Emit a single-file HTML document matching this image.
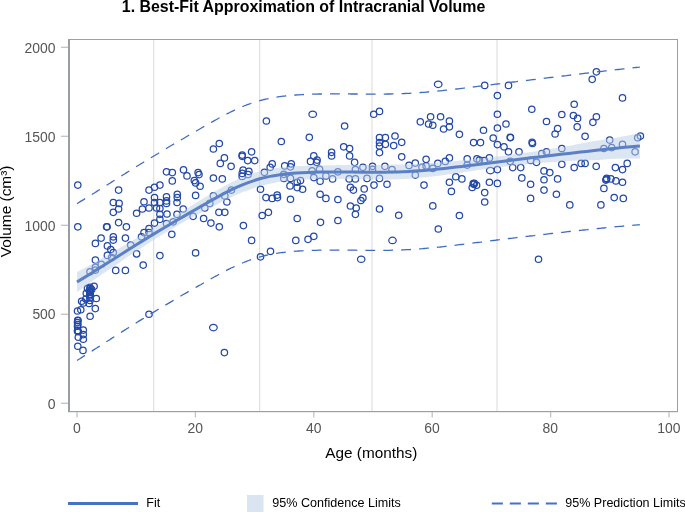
<!DOCTYPE html>
<html><head><meta charset="utf-8"><title>Best-Fit Approximation of Intracranial Volume</title>
<style>
html,body{margin:0;padding:0;background:#fff;}
body{width:685px;height:512px;overflow:hidden;}
svg{display:block;font-family:"Liberation Sans",sans-serif;will-change:transform;}
</style></head><body>
<svg width="685" height="512" viewBox="0 0 685 512">
<rect width="685" height="512" fill="#fff"/>
<text x="121.8" y="11.6" font-size="16" text-anchor="start" fill="#000" textLength="363.5" lengthAdjust="spacingAndGlyphs" font-weight="bold">1. Best-Fit Approximation of Intracranial Volume</text>
<g stroke="#d9d9d9" stroke-width="1"><line x1="153.75" x2="153.75" y1="40" y2="411"/><line x1="259.7" x2="259.7" y1="40" y2="411"/><line x1="372" x2="372" y1="40" y2="411"/><line x1="497" x2="497" y1="40" y2="411"/></g>
<g fill="none" stroke="#2249a8" stroke-width="1.25"><circle cx="86.3" cy="293.3" r="3.2"/><circle cx="90.0" cy="292.3" r="3.2"/><circle cx="90.0" cy="294.3" r="3.2"/><circle cx="96.3" cy="298.5" r="3.2"/><circle cx="81.6" cy="301.3" r="3.2"/><circle cx="83.3" cy="303.0" r="3.2"/><circle cx="89.1" cy="303.5" r="3.2"/><circle cx="85.8" cy="299.0" r="3.2"/><circle cx="95.3" cy="308.6" r="3.2"/><circle cx="77.5" cy="311.0" r="3.2"/><circle cx="80.8" cy="309.8" r="3.2"/><circle cx="90.1" cy="316.3" r="3.2"/><circle cx="78.0" cy="320.6" r="3.2"/><circle cx="77.5" cy="322.6" r="3.2"/><circle cx="77.5" cy="326.3" r="3.2"/><circle cx="77.5" cy="330.9" r="3.2"/><circle cx="78.3" cy="331.8" r="3.2"/><circle cx="83.3" cy="330.1" r="3.2"/><circle cx="83.3" cy="334.6" r="3.2"/><circle cx="78.3" cy="337.3" r="3.2"/><circle cx="83.3" cy="339.3" r="3.2"/><circle cx="77.8" cy="346.3" r="3.2"/><circle cx="83.0" cy="350.4" r="3.2"/><circle cx="149.0" cy="314.3" r="3.2"/><circle cx="77.8" cy="226.8" r="3.2"/><circle cx="107.1" cy="226.8" r="3.2"/><circle cx="106.6" cy="226.8" r="3.2"/><circle cx="118.6" cy="222.6" r="3.2"/><circle cx="126.4" cy="226.8" r="3.2"/><circle cx="113.3" cy="212.3" r="3.2"/><circle cx="118.6" cy="209.0" r="3.2"/><circle cx="136.6" cy="213.2" r="3.2"/><circle cx="142.4" cy="209.0" r="3.2"/><circle cx="149.0" cy="208.0" r="3.2"/><circle cx="156.5" cy="208.0" r="3.2"/><circle cx="159.9" cy="208.5" r="3.2"/><circle cx="159.9" cy="214.3" r="3.2"/><circle cx="167.0" cy="214.0" r="3.2"/><circle cx="159.9" cy="219.3" r="3.2"/><circle cx="154.5" cy="223.1" r="3.2"/><circle cx="149.0" cy="228.5" r="3.2"/><circle cx="149.0" cy="232.6" r="3.2"/><circle cx="144.0" cy="232.6" r="3.2"/><circle cx="141.5" cy="236.8" r="3.2"/><circle cx="171.8" cy="234.3" r="3.2"/><circle cx="166.5" cy="223.5" r="3.2"/><circle cx="173.2" cy="221.8" r="3.2"/><circle cx="101.1" cy="238.1" r="3.2"/><circle cx="95.4" cy="243.4" r="3.2"/><circle cx="113.3" cy="236.8" r="3.2"/><circle cx="113.3" cy="240.1" r="3.2"/><circle cx="125.4" cy="238.1" r="3.2"/><circle cx="107.4" cy="245.9" r="3.2"/><circle cx="110.8" cy="249.6" r="3.2"/><circle cx="113.3" cy="252.6" r="3.2"/><circle cx="107.4" cy="255.4" r="3.2"/><circle cx="130.7" cy="245.1" r="3.2"/><circle cx="136.6" cy="253.9" r="3.2"/><circle cx="159.9" cy="255.6" r="3.2"/><circle cx="143.2" cy="265.1" r="3.2"/><circle cx="95.4" cy="260.1" r="3.2"/><circle cx="101.3" cy="264.2" r="3.2"/><circle cx="95.4" cy="267.2" r="3.2"/><circle cx="95.4" cy="270.1" r="3.2"/><circle cx="90.0" cy="271.7" r="3.2"/><circle cx="115.7" cy="270.4" r="3.2"/><circle cx="125.4" cy="270.4" r="3.2"/><circle cx="94.1" cy="286.2" r="3.2"/><circle cx="90.0" cy="287.2" r="3.2"/><circle cx="87.5" cy="288.4" r="3.2"/><circle cx="111.6" cy="257.6" r="3.2"/><circle cx="77.8" cy="185.1" r="3.2"/><circle cx="118.6" cy="190.1" r="3.2"/><circle cx="113.3" cy="202.5" r="3.2"/><circle cx="119.1" cy="203.4" r="3.2"/><circle cx="144.0" cy="201.7" r="3.2"/><circle cx="149.0" cy="190.1" r="3.2"/><circle cx="154.5" cy="187.2" r="3.2"/><circle cx="159.9" cy="185.1" r="3.2"/><circle cx="154.5" cy="197.6" r="3.2"/><circle cx="154.5" cy="202.5" r="3.2"/><circle cx="159.9" cy="202.5" r="3.2"/><circle cx="166.5" cy="171.8" r="3.2"/><circle cx="172.3" cy="172.6" r="3.2"/><circle cx="172.3" cy="180.9" r="3.2"/><circle cx="166.5" cy="196.7" r="3.2"/><circle cx="166.5" cy="200.9" r="3.2"/><circle cx="166.5" cy="203.4" r="3.2"/><circle cx="183.5" cy="169.8" r="3.2"/><circle cx="187.0" cy="175.9" r="3.2"/><circle cx="198.1" cy="172.6" r="3.2"/><circle cx="199.0" cy="174.6" r="3.2"/><circle cx="194.3" cy="180.6" r="3.2"/><circle cx="195.6" cy="182.9" r="3.2"/><circle cx="200.1" cy="186.2" r="3.2"/><circle cx="195.6" cy="195.4" r="3.2"/><circle cx="177.3" cy="194.2" r="3.2"/><circle cx="177.3" cy="197.6" r="3.2"/><circle cx="177.0" cy="202.5" r="3.2"/><circle cx="213.4" cy="149.0" r="3.2"/><circle cx="219.3" cy="143.5" r="3.2"/><circle cx="224.4" cy="157.9" r="3.2"/><circle cx="220.3" cy="163.4" r="3.2"/><circle cx="231.1" cy="166.3" r="3.2"/><circle cx="213.4" cy="178.1" r="3.2"/><circle cx="222.3" cy="178.9" r="3.2"/><circle cx="242.2" cy="155.1" r="3.2"/><circle cx="242.2" cy="156.3" r="3.2"/><circle cx="251.6" cy="151.8" r="3.2"/><circle cx="247.7" cy="160.6" r="3.2"/><circle cx="254.7" cy="160.6" r="3.2"/><circle cx="243.1" cy="170.1" r="3.2"/><circle cx="248.9" cy="171.4" r="3.2"/><circle cx="242.2" cy="173.4" r="3.2"/><circle cx="248.1" cy="174.6" r="3.2"/><circle cx="242.2" cy="176.4" r="3.2"/><circle cx="272.2" cy="163.9" r="3.2"/><circle cx="270.2" cy="167.3" r="3.2"/><circle cx="264.4" cy="172.3" r="3.2"/><circle cx="284.7" cy="165.9" r="3.2"/><circle cx="281.3" cy="141.5" r="3.2"/><circle cx="266.4" cy="121.0" r="3.2"/><circle cx="260.5" cy="189.2" r="3.2"/><circle cx="231.4" cy="190.1" r="3.2"/><circle cx="213.4" cy="195.9" r="3.2"/><circle cx="224.8" cy="195.9" r="3.2"/><circle cx="226.9" cy="202.0" r="3.2"/><circle cx="266.0" cy="197.6" r="3.2"/><circle cx="272.2" cy="198.4" r="3.2"/><circle cx="277.2" cy="195.1" r="3.2"/><circle cx="277.5" cy="197.6" r="3.2"/><circle cx="283.8" cy="174.3" r="3.2"/><circle cx="283.8" cy="178.4" r="3.2"/><circle cx="209.8" cy="203.4" r="3.2"/><circle cx="183.2" cy="209.0" r="3.2"/><circle cx="177.0" cy="214.3" r="3.2"/><circle cx="193.1" cy="216.3" r="3.2"/><circle cx="203.6" cy="218.5" r="3.2"/><circle cx="210.9" cy="223.1" r="3.2"/><circle cx="219.3" cy="226.8" r="3.2"/><circle cx="218.9" cy="212.3" r="3.2"/><circle cx="224.8" cy="212.3" r="3.2"/><circle cx="243.4" cy="225.6" r="3.2"/><circle cx="251.6" cy="240.4" r="3.2"/><circle cx="195.6" cy="252.9" r="3.2"/><circle cx="260.5" cy="256.8" r="3.2"/><circle cx="270.5" cy="251.3" r="3.2"/><circle cx="262.2" cy="215.5" r="3.2"/><circle cx="268.4" cy="212.3" r="3.2"/><circle cx="204.8" cy="208.0" r="3.2"/><ellipse cx="213.4" cy="327.6" rx="3.8" ry="3.2"/><circle cx="224.4" cy="352.6" r="3.2"/><circle cx="344.6" cy="126.0" r="3.2"/><circle cx="309.3" cy="137.3" r="3.2"/><circle cx="343.7" cy="146.8" r="3.2"/><circle cx="349.6" cy="148.5" r="3.2"/><circle cx="349.6" cy="155.9" r="3.2"/><circle cx="354.6" cy="162.3" r="3.2"/><circle cx="331.6" cy="152.3" r="3.2"/><circle cx="331.6" cy="155.9" r="3.2"/><circle cx="313.8" cy="155.9" r="3.2"/><circle cx="310.5" cy="161.4" r="3.2"/><circle cx="317.1" cy="160.1" r="3.2"/><circle cx="316.6" cy="162.3" r="3.2"/><circle cx="291.3" cy="163.9" r="3.2"/><circle cx="290.5" cy="166.8" r="3.2"/><circle cx="319.6" cy="169.3" r="3.2"/><circle cx="312.1" cy="170.9" r="3.2"/><circle cx="337.9" cy="171.8" r="3.2"/><circle cx="355.4" cy="169.6" r="3.2"/><circle cx="362.9" cy="167.3" r="3.2"/><circle cx="372.5" cy="166.3" r="3.2"/><circle cx="372.5" cy="169.3" r="3.2"/><circle cx="384.9" cy="166.3" r="3.2"/><circle cx="392.0" cy="169.6" r="3.2"/><circle cx="313.8" cy="177.6" r="3.2"/><circle cx="325.9" cy="175.9" r="3.2"/><circle cx="332.6" cy="178.9" r="3.2"/><circle cx="320.1" cy="181.2" r="3.2"/><circle cx="349.2" cy="178.9" r="3.2"/><circle cx="355.4" cy="178.9" r="3.2"/><circle cx="367.0" cy="178.4" r="3.2"/><circle cx="379.5" cy="178.4" r="3.2"/><circle cx="290.5" cy="178.4" r="3.2"/><circle cx="300.5" cy="180.6" r="3.2"/><circle cx="297.2" cy="182.2" r="3.2"/><circle cx="290.0" cy="185.9" r="3.2"/><circle cx="297.2" cy="187.6" r="3.2"/><circle cx="302.6" cy="189.2" r="3.2"/><circle cx="290.5" cy="199.2" r="3.2"/><circle cx="320.1" cy="194.2" r="3.2"/><circle cx="325.9" cy="198.4" r="3.2"/><circle cx="337.9" cy="199.5" r="3.2"/><circle cx="350.4" cy="187.2" r="3.2"/><circle cx="353.4" cy="190.1" r="3.2"/><circle cx="364.2" cy="188.9" r="3.2"/><circle cx="374.0" cy="185.1" r="3.2"/><circle cx="387.0" cy="184.2" r="3.2"/><circle cx="362.9" cy="197.9" r="3.2"/><circle cx="360.9" cy="200.5" r="3.2"/><circle cx="350.4" cy="206.0" r="3.2"/><circle cx="379.5" cy="137.6" r="3.2"/><circle cx="385.4" cy="137.6" r="3.2"/><circle cx="379.5" cy="142.6" r="3.2"/><circle cx="385.4" cy="144.3" r="3.2"/><circle cx="379.5" cy="146.0" r="3.2"/><circle cx="379.5" cy="152.6" r="3.2"/><circle cx="395.0" cy="136.0" r="3.2"/><circle cx="393.7" cy="145.6" r="3.2"/><circle cx="401.7" cy="142.3" r="3.2"/><circle cx="401.7" cy="156.8" r="3.2"/><circle cx="297.2" cy="218.5" r="3.2"/><circle cx="320.5" cy="222.3" r="3.2"/><circle cx="337.9" cy="220.5" r="3.2"/><circle cx="356.2" cy="208.0" r="3.2"/><circle cx="355.4" cy="214.3" r="3.2"/><circle cx="379.5" cy="209.0" r="3.2"/><circle cx="398.7" cy="215.2" r="3.2"/><circle cx="295.8" cy="240.4" r="3.2"/><circle cx="308.0" cy="239.3" r="3.2"/><circle cx="313.8" cy="236.3" r="3.2"/><ellipse cx="392.5" cy="240.4" rx="3.7" ry="3.2"/><ellipse cx="361.2" cy="259.3" rx="3.7" ry="3.2"/><ellipse cx="312.7" cy="114.2" rx="3.8" ry="3.2"/><circle cx="373.7" cy="114.2" r="3.2"/><circle cx="379.5" cy="111.4" r="3.2"/><circle cx="420.3" cy="121.8" r="3.2"/><circle cx="428.6" cy="124.0" r="3.2"/><circle cx="432.8" cy="125.2" r="3.2"/><circle cx="449.4" cy="126.8" r="3.2"/><circle cx="443.6" cy="129.0" r="3.2"/><circle cx="449.4" cy="121.0" r="3.2"/><circle cx="459.4" cy="134.3" r="3.2"/><circle cx="483.5" cy="130.2" r="3.2"/><circle cx="497.4" cy="128.0" r="3.2"/><circle cx="506.0" cy="124.0" r="3.2"/><circle cx="510.2" cy="137.3" r="3.2"/><circle cx="510.5" cy="137.6" r="3.2"/><circle cx="493.2" cy="138.1" r="3.2"/><circle cx="473.6" cy="142.6" r="3.2"/><circle cx="480.5" cy="142.6" r="3.2"/><circle cx="497.4" cy="144.6" r="3.2"/><circle cx="504.0" cy="146.8" r="3.2"/><circle cx="508.5" cy="151.8" r="3.2"/><circle cx="426.1" cy="159.3" r="3.2"/><circle cx="449.4" cy="157.9" r="3.2"/><circle cx="445.3" cy="161.4" r="3.2"/><circle cx="437.8" cy="163.4" r="3.2"/><circle cx="415.3" cy="163.1" r="3.2"/><circle cx="409.0" cy="165.4" r="3.2"/><circle cx="426.1" cy="165.9" r="3.2"/><circle cx="422.0" cy="167.3" r="3.2"/><circle cx="432.8" cy="168.4" r="3.2"/><circle cx="467.2" cy="158.9" r="3.2"/><circle cx="467.2" cy="165.1" r="3.2"/><circle cx="476.9" cy="158.9" r="3.2"/><circle cx="479.4" cy="160.1" r="3.2"/><circle cx="484.4" cy="160.6" r="3.2"/><circle cx="489.4" cy="157.9" r="3.2"/><ellipse cx="490.4" cy="170.6" rx="3.9" ry="3.2"/><circle cx="497.4" cy="169.6" r="3.2"/><circle cx="510.2" cy="161.3" r="3.2"/><circle cx="512.7" cy="167.6" r="3.2"/><circle cx="415.3" cy="175.1" r="3.2"/><circle cx="455.8" cy="176.7" r="3.2"/><circle cx="461.9" cy="178.9" r="3.2"/><circle cx="449.4" cy="182.2" r="3.2"/><circle cx="424.0" cy="185.1" r="3.2"/><circle cx="451.4" cy="191.4" r="3.2"/><circle cx="473.2" cy="183.6" r="3.2"/><circle cx="473.9" cy="184.3" r="3.2"/><circle cx="474.3" cy="183.2" r="3.2"/><circle cx="472.2" cy="187.5" r="3.2"/><circle cx="476.6" cy="185.2" r="3.2"/><circle cx="489.4" cy="182.2" r="3.2"/><circle cx="497.4" cy="183.4" r="3.2"/><circle cx="484.7" cy="192.6" r="3.2"/><circle cx="484.7" cy="202.0" r="3.2"/><circle cx="432.8" cy="205.9" r="3.2"/><circle cx="459.4" cy="215.5" r="3.2"/><circle cx="438.3" cy="229.0" r="3.2"/><ellipse cx="438.2" cy="84.3" rx="3.8" ry="3.2"/><circle cx="484.7" cy="85.4" r="3.2"/><circle cx="508.5" cy="85.4" r="3.2"/><circle cx="497.4" cy="95.6" r="3.2"/><circle cx="497.4" cy="114.2" r="3.2"/><circle cx="430.6" cy="116.7" r="3.2"/><circle cx="440.6" cy="116.7" r="3.2"/><circle cx="546.5" cy="121.5" r="3.2"/><circle cx="557.6" cy="128.5" r="3.2"/><circle cx="555.1" cy="134.0" r="3.2"/><circle cx="577.2" cy="126.8" r="3.2"/><circle cx="592.9" cy="122.3" r="3.2"/><circle cx="585.1" cy="136.3" r="3.2"/><circle cx="532.1" cy="142.3" r="3.2"/><circle cx="532.5" cy="143.5" r="3.2"/><circle cx="609.7" cy="140.1" r="3.2"/><circle cx="622.5" cy="144.3" r="3.2"/><circle cx="611.7" cy="147.6" r="3.2"/><circle cx="603.9" cy="148.5" r="3.2"/><circle cx="561.8" cy="148.5" r="3.2"/><circle cx="546.5" cy="151.8" r="3.2"/><circle cx="541.8" cy="153.5" r="3.2"/><circle cx="519.0" cy="151.8" r="3.2"/><circle cx="530.6" cy="160.4" r="3.2"/><circle cx="536.5" cy="162.3" r="3.2"/><circle cx="561.8" cy="164.3" r="3.2"/><circle cx="520.7" cy="167.6" r="3.2"/><circle cx="574.2" cy="167.6" r="3.2"/><circle cx="581.2" cy="163.4" r="3.2"/><circle cx="585.1" cy="163.4" r="3.2"/><circle cx="596.2" cy="166.3" r="3.2"/><circle cx="627.2" cy="163.4" r="3.2"/><circle cx="615.4" cy="167.6" r="3.2"/><circle cx="622.5" cy="169.6" r="3.2"/><circle cx="544.0" cy="170.9" r="3.2"/><circle cx="549.8" cy="172.6" r="3.2"/><circle cx="521.8" cy="177.9" r="3.2"/><circle cx="544.0" cy="179.7" r="3.2"/><circle cx="557.6" cy="178.9" r="3.2"/><circle cx="530.6" cy="184.2" r="3.2"/><circle cx="606.7" cy="178.4" r="3.2"/><circle cx="605.9" cy="180.1" r="3.2"/><circle cx="610.9" cy="178.9" r="3.2"/><circle cx="615.9" cy="180.9" r="3.2"/><circle cx="622.5" cy="182.2" r="3.2"/><circle cx="603.9" cy="188.4" r="3.2"/><circle cx="544.0" cy="190.1" r="3.2"/><circle cx="556.4" cy="194.2" r="3.2"/><circle cx="530.6" cy="198.4" r="3.2"/><circle cx="614.2" cy="197.6" r="3.2"/><circle cx="623.3" cy="198.4" r="3.2"/><circle cx="569.8" cy="204.9" r="3.2"/><circle cx="600.9" cy="204.9" r="3.2"/><circle cx="606.4" cy="179.2" r="3.2"/><circle cx="596.4" cy="71.8" r="3.2"/><circle cx="592.2" cy="79.3" r="3.2"/><circle cx="622.5" cy="97.9" r="3.2"/><circle cx="574.2" cy="104.2" r="3.2"/><circle cx="531.8" cy="109.2" r="3.2"/><circle cx="561.8" cy="114.5" r="3.2"/><circle cx="573.4" cy="115.5" r="3.2"/><circle cx="577.6" cy="118.4" r="3.2"/><circle cx="596.4" cy="116.7" r="3.2"/><circle cx="538.5" cy="259.3" r="3.2"/><circle cx="637.7" cy="137.7" r="3.2"/><circle cx="640.4" cy="136.1" r="3.2"/><circle cx="635.1" cy="151.8" r="3.2"/><circle cx="90.0" cy="288.8" r="3.2"/><circle cx="90.2" cy="291.7" r="3.2"/><circle cx="89.8" cy="294.6" r="3.2"/><circle cx="77.7" cy="320.4" r="3.2"/><circle cx="77.9" cy="324.5" r="3.2"/><circle cx="77.7" cy="330.4" r="3.2"/><circle cx="91.7" cy="289.5" r="3.2"/><circle cx="89.9" cy="296.0" r="3.2"/><circle cx="89.9" cy="298.0" r="3.2"/><circle cx="90.0" cy="300.5" r="3.2"/><circle cx="89.5" cy="290.5" r="3.2"/></g>
<path d="M77.0,271.9 L82.9,268.9 L88.9,265.7 L94.8,262.6 L100.7,259.2 L106.6,255.6 L112.6,252.1 L118.5,248.7 L124.4,245.2 L130.3,241.7 L136.3,238.2 L142.2,234.7 L148.1,231.3 L154.0,227.9 L160.0,224.5 L165.9,221.0 L171.8,217.5 L177.7,214.1 L183.7,210.6 L189.6,207.1 L195.5,203.3 L201.4,199.6 L207.4,195.9 L213.3,192.3 L219.2,188.9 L225.1,185.7 L231.1,182.6 L237.0,179.7 L242.9,177.1 L248.8,174.7 L254.8,172.7 L260.7,171.1 L266.6,169.7 L272.5,168.6 L278.5,167.7 L284.4,167.1 L290.3,166.6 L296.2,166.2 L302.2,165.9 L308.1,165.6 L314.0,165.5 L319.9,165.4 L325.9,165.3 L331.8,165.2 L337.7,165.1 L343.6,165.1 L349.6,165.1 L355.5,165.1 L361.4,165.1 L367.3,165.1 L373.3,165.0 L379.2,165.0 L385.1,164.9 L391.0,164.8 L397.0,164.6 L402.9,164.4 L408.8,164.2 L414.7,163.9 L420.7,163.7 L426.6,163.3 L432.5,162.9 L438.4,162.5 L444.4,162.0 L450.3,161.5 L456.2,160.9 L462.1,160.3 L468.1,159.7 L474.0,159.1 L479.9,158.5 L485.8,157.8 L491.8,157.2 L497.7,156.5 L503.6,155.7 L509.5,154.9 L515.5,154.1 L521.4,153.3 L527.3,152.5 L533.2,151.7 L539.2,150.7 L545.1,149.8 L551.0,148.8 L556.9,147.9 L562.9,146.9 L568.8,145.9 L574.7,144.7 L580.6,143.6 L586.6,142.4 L592.5,141.3 L598.4,140.4 L604.3,139.4 L610.3,138.5 L616.2,137.7 L622.1,136.6 L628.0,135.4 L634.0,134.3 L639.9,133.3 L639.9,158.5 L634.0,158.6 L628.0,158.6 L622.1,158.7 L616.2,158.8 L610.3,159.1 L604.3,159.5 L598.4,159.9 L592.5,160.2 L586.6,160.4 L580.6,160.6 L574.7,160.8 L568.8,161.0 L562.9,161.3 L556.9,161.7 L551.0,162.2 L545.1,162.6 L539.2,163.1 L533.2,163.5 L527.3,164.1 L521.4,164.8 L515.5,165.4 L509.5,166.0 L503.6,166.7 L497.7,167.3 L491.8,168.2 L485.8,169.0 L479.9,169.8 L474.0,170.7 L468.1,171.5 L462.1,172.4 L456.2,173.3 L450.3,174.1 L444.4,174.9 L438.4,175.7 L432.5,176.4 L426.6,177.1 L420.7,177.7 L414.7,178.3 L408.8,178.8 L402.9,179.1 L397.0,179.3 L391.0,179.4 L385.1,179.5 L379.2,179.5 L373.3,179.5 L367.3,179.4 L361.4,179.3 L355.5,179.2 L349.6,179.0 L343.6,178.9 L337.7,178.8 L331.8,178.7 L325.9,178.7 L319.9,178.8 L314.0,179.0 L308.1,179.2 L302.2,179.6 L296.2,179.9 L290.3,180.5 L284.4,181.2 L278.5,182.1 L272.5,183.2 L266.6,184.5 L260.7,186.0 L254.8,187.8 L248.8,189.9 L242.9,192.1 L237.0,194.6 L231.1,197.3 L225.1,200.2 L219.2,203.2 L213.3,206.4 L207.4,209.5 L201.4,212.6 L195.5,215.7 L189.6,218.8 L183.7,222.1 L177.7,225.5 L171.8,229.0 L165.9,232.5 L160.0,236.1 L154.0,239.8 L148.1,243.6 L142.2,247.4 L136.3,251.3 L130.3,255.1 L124.4,259.1 L118.5,263.2 L112.6,267.2 L106.6,271.2 L100.7,275.2 L94.8,279.3 L88.9,283.6 L82.9,287.9 L77.0,292.1Z" fill="#b9cde5" fill-opacity="0.5"/>
<path d="M77.0,282.0 L82.9,278.4 L88.9,274.7 L94.8,270.9 L100.7,267.2 L106.6,263.4 L112.6,259.7 L118.5,255.9 L124.4,252.2 L130.3,248.4 L136.3,244.7 L142.2,241.1 L148.1,237.4 L154.0,233.9 L160.0,230.3 L165.9,226.8 L171.8,223.3 L177.7,219.8 L183.7,216.4 L189.6,212.9 L195.5,209.5 L201.4,206.1 L207.4,202.7 L213.3,199.4 L219.2,196.1 L225.1,192.9 L231.1,189.9 L237.0,187.2 L242.9,184.6 L248.8,182.3 L254.8,180.3 L260.7,178.5 L266.6,177.1 L272.5,175.9 L278.5,174.9 L284.4,174.1 L290.3,173.5 L296.2,173.1 L302.2,172.7 L308.1,172.4 L314.0,172.2 L319.9,172.1 L325.9,172.0 L331.8,172.0 L337.7,172.0 L343.6,172.0 L349.6,172.1 L355.5,172.1 L361.4,172.2 L367.3,172.2 L373.3,172.2 L379.2,172.2 L385.1,172.2 L391.0,172.1 L397.0,172.0 L402.9,171.8 L408.8,171.5 L414.7,171.1 L420.7,170.7 L426.6,170.2 L432.5,169.7 L438.4,169.1 L444.4,168.4 L450.3,167.8 L456.2,167.1 L462.1,166.4 L468.1,165.6 L474.0,164.9 L479.9,164.2 L485.8,163.4 L491.8,162.7 L497.7,161.9 L503.6,161.2 L509.5,160.5 L515.5,159.8 L521.4,159.0 L527.3,158.3 L533.2,157.6 L539.2,156.9 L545.1,156.2 L551.0,155.5 L556.9,154.8 L562.9,154.1 L568.8,153.4 L574.7,152.8 L580.6,152.1 L586.6,151.4 L592.5,150.8 L598.4,150.1 L604.3,149.5 L610.3,148.8 L616.2,148.2 L622.1,147.6 L628.0,147.0 L634.0,146.5 L639.9,145.9" fill="none" stroke="#5b80c3" stroke-width="3" stroke-linejoin="round"/>
<g fill="none" stroke="#3f6bc0" stroke-width="1.3">
<path d="M77.0,203.6 L78.5,202.7 L80.2,201.6 L81.9,200.6 L83.6,199.6 L85.1,198.6 M91.8,194.5 L93.5,193.5 L95.2,192.5 L96.8,191.4 L98.5,190.3 L99.9,189.5 M106.6,185.3 L108.2,184.2 L109.9,183.2 L111.6,182.1 L113.3,181.0 L114.6,180.2 M121.3,176.0 L122.9,175.0 L124.6,174.0 L126.3,172.9 L128.0,171.8 L129.4,171.0 M136.1,166.8 L137.7,165.8 L139.4,164.8 L141.0,163.7 L142.7,162.7 L144.2,161.8 M150.9,157.7 L152.6,156.7 L154.3,155.7 L156.0,154.7 L157.7,153.7 L159.1,152.8 M165.9,148.8 L167.5,147.8 L169.2,146.8 L170.9,145.8 L172.6,144.8 L174.1,143.9 M180.9,139.9 L182.6,139.0 L184.3,138.0 L185.9,137.0 L187.6,136.0 L189.2,135.1 M196.0,131.2 L197.6,130.2 L199.3,129.3 L201.0,128.3 L202.7,127.3 L204.3,126.4 M211.1,122.5 L212.7,121.6 L214.4,120.6 L216.1,119.7 L217.8,118.8 L219.4,117.8 L219.5,117.8 M226.5,114.1 L228.0,113.3 L229.7,112.5 L231.4,111.6 L233.1,110.8 L234.8,110.0 L235.1,109.9 M242.4,106.7 L243.9,106.0 L245.6,105.4 L247.3,104.7 L249.0,104.1 L250.7,103.5 L251.4,103.2 M259.1,100.8 L260.7,100.4 L262.4,100.0 L264.1,99.5 L265.8,99.1 L267.4,98.8 L268.5,98.5 M276.5,97.1 L278.1,96.8 L279.8,96.6 L281.5,96.4 L283.2,96.2 L284.9,96.0 L286.2,95.8 M294.2,95.1 L295.9,95.0 L297.6,94.9 L299.3,94.8 L300.9,94.7 L302.6,94.6 L304.0,94.5 M312.1,94.2 L313.8,94.1 L315.4,94.1 L317.1,94.1 L318.8,94.0 L320.5,94.0 L321.9,94.0 M330.0,93.9 L331.6,93.9 L333.3,93.9 L335.0,93.9 L336.7,93.9 L338.4,93.9 L339.8,93.9 M347.9,93.9 L349.5,93.9 L351.2,94.0 L352.9,94.0 L354.6,94.0 L356.3,94.0 L357.7,94.0 M365.8,94.1 L367.4,94.1 L369.1,94.1 L370.8,94.1 L372.5,94.1 L374.1,94.1 L375.6,94.1 M383.7,94.1 L385.3,94.1 L387.0,94.0 L388.6,94.0 L390.3,94.0 L392.0,93.9 L393.5,93.9 M401.6,93.7 L403.3,93.6 L405.0,93.5 L406.7,93.4 L408.3,93.3 L410.0,93.3 L411.4,93.2 M419.5,92.7 L421.0,92.5 L422.7,92.4 L424.4,92.3 L426.1,92.1 L427.8,92.0 L429.2,91.9 M437.3,91.1 L438.9,90.9 L440.6,90.8 L442.3,90.6 L444.0,90.4 L445.7,90.2 L447.0,90.1 M455.1,89.2 L456.6,89.0 L458.3,88.8 L460.0,88.6 L461.7,88.4 L463.4,88.2 L464.8,88.0 M472.8,87.0 L474.4,86.8 L476.1,86.6 L477.7,86.4 L479.4,86.2 L481.1,86.0 L482.5,85.8 M490.5,84.8 L492.1,84.6 L493.8,84.4 L495.5,84.2 L497.2,84.0 L498.9,83.8 L500.2,83.6 M508.3,82.6 L509.8,82.4 L511.5,82.2 L513.2,82.0 L514.9,81.8 L516.6,81.6 L518.0,81.4 M526.0,80.5 L527.6,80.3 L529.3,80.1 L531.0,79.9 L532.6,79.7 L534.3,79.5 L535.7,79.3 M543.7,78.3 L545.3,78.1 L547.0,77.9 L548.7,77.7 L550.4,77.5 L552.1,77.3 L553.5,77.1 M561.5,76.2 L563.0,76.0 L564.7,75.8 L566.4,75.6 L568.1,75.3 L569.8,75.1 L571.2,75.0 M579.2,74.0 L580.9,73.8 L582.6,73.6 L584.3,73.4 L586.0,73.2 L587.7,73.0 L588.9,72.8 M597.0,71.9 L598.7,71.7 L600.3,71.5 L602.0,71.3 L603.7,71.1 L605.4,70.9 L606.7,70.8 M614.7,69.9 L616.4,69.7 L618.1,69.5 L619.8,69.3 L621.5,69.1 L623.1,68.9 L624.5,68.8 M632.5,67.9 L634.1,67.7 L635.8,67.5 L637.5,67.3 L639.2,67.2 L639.9,67.1"/><path d="M77.0,360.5 L78.5,359.5 L80.2,358.5 L81.9,357.4 L83.6,356.3 L85.0,355.4 M91.7,351.2 L93.3,350.1 L95.0,349.0 L96.7,348.0 L98.4,346.9 L99.7,346.1 M106.3,341.8 L108.0,340.8 L109.7,339.7 L111.3,338.6 L113.0,337.5 L114.3,336.7 M121.0,332.5 L122.6,331.4 L124.3,330.4 L126.0,329.3 L127.7,328.2 L129.0,327.4 M135.7,323.2 L137.2,322.2 L138.9,321.1 L140.6,320.1 L142.3,319.1 L143.8,318.2 M150.5,314.0 L152.0,313.1 L153.7,312.1 L155.4,311.1 L157.1,310.0 L158.6,309.1 M165.4,305.1 L167.1,304.1 L168.8,303.1 L170.5,302.1 L172.2,301.1 L173.6,300.2 M180.4,296.2 L182.0,295.3 L183.7,294.3 L185.4,293.4 L187.1,292.4 L188.7,291.4 M195.6,287.5 L197.2,286.6 L198.9,285.6 L200.6,284.7 L202.3,283.7 L203.9,282.8 M210.7,278.9 L212.4,278.0 L214.1,277.0 L215.8,276.1 L217.5,275.2 L219.1,274.3 M226.1,270.6 L227.8,269.7 L229.4,268.9 L231.1,268.0 L232.8,267.3 L234.5,266.5 L234.7,266.4 M242.0,263.1 L243.7,262.5 L245.3,261.8 L247.0,261.2 L248.7,260.5 L250.4,259.9 L251.1,259.7 M258.7,257.3 L260.3,256.8 L262.0,256.4 L263.6,256.0 L265.3,255.5 L267.0,255.1 L268.2,254.9 M276.1,253.4 L277.7,253.2 L279.4,252.9 L281.1,252.7 L282.8,252.5 L284.5,252.3 L285.8,252.1 M293.8,251.4 L295.5,251.2 L297.1,251.1 L298.8,251.0 L300.5,250.9 L302.2,250.8 L303.6,250.7 M311.7,250.4 L313.3,250.3 L315.0,250.3 L316.7,250.3 L318.4,250.2 L320.1,250.2 L321.5,250.2 M329.6,250.1 L331.2,250.1 L332.9,250.1 L334.6,250.1 L336.3,250.1 L338.0,250.1 L339.4,250.1 M347.5,250.2 L349.1,250.2 L350.8,250.2 L352.5,250.2 L354.2,250.2 L355.8,250.2 L357.3,250.3 M365.4,250.3 L367.0,250.3 L368.7,250.4 L370.3,250.4 L372.0,250.4 L373.7,250.4 L375.2,250.4 M383.3,250.4 L385.0,250.3 L386.7,250.3 L388.4,250.3 L390.1,250.3 L391.7,250.2 L393.1,250.2 M401.2,250.0 L402.9,249.9 L404.5,249.8 L406.2,249.7 L407.9,249.7 L409.6,249.6 L411.0,249.5 M419.1,248.9 L420.7,248.8 L422.4,248.7 L424.1,248.5 L425.8,248.4 L427.5,248.2 L428.8,248.1 M436.9,247.3 L438.5,247.1 L440.2,247.0 L441.9,246.8 L443.5,246.6 L445.2,246.4 L446.6,246.3 M454.6,245.3 L456.2,245.1 L457.9,244.9 L459.6,244.7 L461.3,244.5 L463.0,244.3 L464.3,244.1 M472.4,243.1 L473.9,242.9 L475.6,242.7 L477.3,242.5 L479.0,242.3 L480.7,242.1 L482.1,241.9 M490.1,240.9 L491.7,240.7 L493.4,240.5 L495.1,240.3 L496.7,240.0 L498.4,239.8 L499.8,239.7 M507.8,238.7 L509.4,238.5 L511.1,238.3 L512.8,238.1 L514.5,237.9 L516.2,237.7 L517.5,237.5 M525.6,236.5 L527.2,236.4 L528.8,236.2 L530.5,236.0 L532.2,235.8 L533.9,235.6 L535.3,235.4 M543.3,234.5 L544.9,234.3 L546.6,234.1 L548.3,233.9 L550.0,233.7 L551.6,233.5 L553.1,233.4 M561.1,232.4 L562.8,232.3 L564.5,232.1 L566.1,231.9 L567.8,231.7 L569.5,231.5 L570.8,231.4 M578.9,230.5 L580.5,230.4 L582.2,230.2 L583.9,230.0 L585.6,229.8 L587.3,229.7 L588.6,229.5 M596.7,228.7 L598.2,228.5 L599.9,228.4 L601.6,228.2 L603.3,228.0 L605.0,227.8 L606.4,227.7 M614.4,226.9 L616.1,226.7 L617.8,226.6 L619.5,226.4 L621.2,226.3 L622.9,226.1 L624.2,226.0 M632.3,225.3 L633.8,225.2 L635.5,225.1 L637.2,224.9 L638.9,224.8 L639.9,224.7"/></g>
<rect x="68" y="39" width="2" height="373" fill="#979ea4"/>
<rect x="68" y="411" width="610" height="1.2" fill="#9aa1a6"/>
<rect x="68" y="39" width="610" height="1" fill="#9aa1a6"/>
<rect x="677" y="39" width="1" height="373" fill="#9aa1a6"/>
<g stroke="#bfc3c7" stroke-width="1.3"><line x1="61" x2="68" y1="403.3" y2="403.3"/><line x1="61" x2="68" y1="314.3" y2="314.3"/><line x1="61" x2="68" y1="225.3" y2="225.3"/><line x1="61" x2="68" y1="136.3" y2="136.3"/><line x1="61" x2="68" y1="47.3" y2="47.3"/><line x1="77.0" x2="77.0" y1="412" y2="417.5"/><line x1="195.4" x2="195.4" y1="412" y2="417.5"/><line x1="313.8" x2="313.8" y1="412" y2="417.5"/><line x1="432.2" x2="432.2" y1="412" y2="417.5"/><line x1="550.6" x2="550.6" y1="412" y2="417.5"/><line x1="669.0" x2="669.0" y1="412" y2="417.5"/></g>
<g><text x="47.800000000000004" y="408.8" font-size="14" text-anchor="start" fill="#555" textLength="7.8" lengthAdjust="spacingAndGlyphs">0</text><text x="32.400000000000006" y="318.8" font-size="14" text-anchor="start" fill="#555" textLength="23.2" lengthAdjust="spacingAndGlyphs">500</text><text x="24.6" y="230.8" font-size="14" text-anchor="start" fill="#555" textLength="31.0" lengthAdjust="spacingAndGlyphs">1000</text><text x="24.6" y="141.8" font-size="14" text-anchor="start" fill="#555" textLength="31.0" lengthAdjust="spacingAndGlyphs">1500</text><text x="24.6" y="52.8" font-size="14" text-anchor="start" fill="#555" textLength="31.0" lengthAdjust="spacingAndGlyphs">2000</text><text x="72.9" y="432.6" font-size="14" text-anchor="start" fill="#555" textLength="7.8" lengthAdjust="spacingAndGlyphs">0</text><text x="187.5" y="432.6" font-size="14" text-anchor="start" fill="#555" textLength="15.5" lengthAdjust="spacingAndGlyphs">20</text><text x="305.9" y="432.6" font-size="14" text-anchor="start" fill="#555" textLength="15.5" lengthAdjust="spacingAndGlyphs">40</text><text x="424.2" y="432.6" font-size="14" text-anchor="start" fill="#555" textLength="15.5" lengthAdjust="spacingAndGlyphs">60</text><text x="542.6" y="432.6" font-size="14" text-anchor="start" fill="#555" textLength="15.5" lengthAdjust="spacingAndGlyphs">80</text><text x="657.2" y="432.6" font-size="14" text-anchor="start" fill="#555" textLength="23.2" lengthAdjust="spacingAndGlyphs">100</text></g>
<text x="325.3" y="458" font-size="14.1" text-anchor="start" fill="#000" textLength="92" lengthAdjust="spacingAndGlyphs">Age (months)</text>
<g transform="translate(10.7,257.2) rotate(-90)"><text x="0" y="0" font-size="14.1" text-anchor="start" fill="#000" textLength="91.7" lengthAdjust="spacingAndGlyphs">Volume (cm³)</text></g>
<line x1="68" x2="138" y1="503.4" y2="503.4" stroke="#4472c4" stroke-width="3"/>
<text x="146.3" y="507.1" font-size="12.3" text-anchor="start" fill="#000" textLength="13.9" lengthAdjust="spacingAndGlyphs">Fit</text>
<rect x="247" y="495" width="16.5" height="17" fill="#dbe5f1"/>
<text x="272.3" y="507.1" font-size="12.3" text-anchor="start" fill="#000" textLength="128.5" lengthAdjust="spacingAndGlyphs">95% Confidence Limits</text>
<line x1="491.8" x2="557" y1="503.6" y2="503.6" stroke="#4472c4" stroke-width="2" stroke-dasharray="11.1 6.9"/>
<text x="565.3" y="507.1" font-size="12.3" text-anchor="start" fill="#000" textLength="120.5" lengthAdjust="spacingAndGlyphs">95% Prediction Limits</text>
</svg>
</body></html>
